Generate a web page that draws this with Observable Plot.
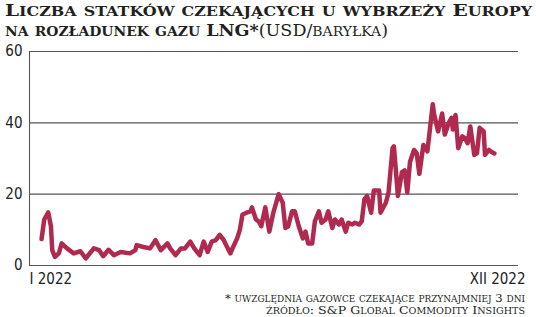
<!DOCTYPE html>
<html>
<head>
<meta charset="utf-8">
<script src="https://cdn.jsdelivr.net/npm/d3@7"></script>
<script src="https://cdn.jsdelivr.net/npm/@observablehq/plot@0.6"></script>
<style>
  html, body { margin: 0; padding: 0; background: #fff; }
  body { width: 536px; height: 317px; overflow: hidden; position: relative; }
  .line { position: absolute; white-space: nowrap; font-family: "DejaVu Serif", serif; color: #231f20; transform-origin: 0 0; }
  .sc { text-transform: uppercase; }
  #chart { position: absolute; left: 0; top: 38px; }
</style>
</head>
<body>
<div id="t1" class="line"></div>
<div id="t2" class="line"></div>
<div id="chart"></div>
<div id="c1" class="line"></div>
<div id="c2" class="line"></div>
<script>
// ----- texts -----
const titleLine1 = "Liczba statków czekających u wybrzeży Europy";
const titleLine2 = "na rozładunek gazu LNG*";
const unitText = "(USD/baryłka)";
const captionLine1 = "* uwzględnia gazowce czekające przynajmniej 3 dni";
const captionLine2 = "źródło: S&P Global Commodity Insights";
const xLabels = ["I 2022", "XII 2022"];
const yTicks = [0, 20, 40, 60];

// ----- data: day of 2022 (0–365) and number of waiting ships -----
const days = [9, 11, 14, 16, 17, 18, 19, 22, 24, 28, 33, 38, 42, 48, 52, 55, 59, 63, 68, 75, 79, 80, 85, 90, 94, 98, 103, 105, 109, 113, 116, 120, 123, 127, 130, 133, 136, 139, 142, 145, 148, 150, 152, 155, 157, 159, 162, 165, 166, 169, 171, 173, 176, 179, 182, 186, 189, 191, 193, 196, 198, 201, 204, 206, 208, 211, 213, 216, 218, 221, 223, 226, 228, 231, 233, 236, 238, 241, 243, 246, 248, 250, 252, 255, 257, 261, 262, 266, 268, 271, 272, 275, 278, 280, 282, 284, 287, 289, 291, 294, 297, 299, 301, 302, 305, 308, 310, 313, 315, 316, 318, 320, 323, 325, 327, 329, 332, 334, 336, 339, 340, 343, 345, 347];
const ships = [7.4, 12.9, 14.9, 11, 4.3, 3.3, 2.4, 3.5, 6.2, 4.8, 3.4, 4, 2, 4.8, 4.3, 2.6, 4.4, 2.9, 3.8, 3.4, 4.3, 5.7, 5.2, 4.8, 7.1, 4.3, 6.2, 4.8, 2.9, 4.8, 4.8, 6.7, 4.8, 2.9, 6.7, 3.8, 6.7, 7.1, 8.6, 7.1, 4.8, 3.4, 5.2, 7.6, 10, 14.3, 14.8, 15.2, 16.3, 12.9, 12.4, 11, 16.3, 9.5, 14.8, 20, 17.6, 10.5, 10.9, 15.2, 15.2, 11, 7.6, 9.5, 6.2, 6.2, 12.4, 15.2, 12, 12.9, 15.2, 10.5, 12.9, 11.5, 12.9, 9.5, 12, 11.5, 12, 11.5, 12.4, 18.6, 19.5, 14.8, 21, 21, 14.8, 17.6, 20.5, 32.9, 33.4, 19.5, 26.2, 26.7, 20.5, 29, 32.4, 31.5, 25.7, 33.8, 32, 38.6, 45.2, 42.4, 37.6, 42.6, 36.7, 40, 41.4, 38.1, 42.2, 32.9, 36.2, 35.7, 34.3, 39, 31, 31.5, 38.6, 37.6, 31, 32.4, 31.8, 31.4];

// ----- small-caps text builder -----
function addSmallCaps(el, text, capPx, scPx, weight) {
  const wrap = document.createElement("span");
  wrap.style.fontWeight = weight;
  let i = 0;
  while (i < text.length) {
    const isLower = ch => ch !== ch.toUpperCase();
    const lower = isLower(text[i]);
    let j = i;
    while (j < text.length && isLower(text[j]) === lower) j++;
    const s = document.createElement("span");
    s.textContent = text.slice(i, j);
    s.style.fontSize = (lower ? scPx : capPx) + "px";
    if (lower) s.className = "sc";
    wrap.appendChild(s);
    i = j;
  }
  el.appendChild(wrap);
}
function place(id, left, top, right, lh) {
  const el = document.getElementById(id);
  el.style.left = left + "px";
  el.style.top = top + "px";
  el.style.lineHeight = lh + "px";
  const w = el.getBoundingClientRect().width;
  el.style.transform = `scaleX(${(right - left) / w})`;
}
const t1 = document.getElementById("t1");
addSmallCaps(t1, titleLine1, 17, 13.5, "bold");
const t2 = document.getElementById("t2");
addSmallCaps(t2, titleLine2, 17, 13.5, "bold");
addSmallCaps(t2, unitText, 17, 13.5, "normal");
addSmallCaps(document.getElementById("c1"), captionLine1, 11.5, 8.8, "normal");
addSmallCaps(document.getElementById("c2"), captionLine2, 11.5, 8.8, "normal");
place("t1", 5, 0, 532, 20);
place("t2", 5, 20, 388, 20);
place("c1", 225, 291, 525, 11);
place("c2", 266, 303, 525, 11);

// ----- chart -----
const data = days.map((d, i) => ({day: d, value: ships[i]}));
const axisFont = '"Liberation Sans Narrow", "DejaVu Sans Condensed", "Roboto", sans-serif';

const chart = Plot.plot({
  width: 536,
  height: 253,
  marginTop: 13,
  marginBottom: 26,
  marginLeft: 29,
  marginRight: 18,
  style: { fontFamily: axisFont, fontSize: "15px", color: "#222", background: "transparent" },
  x: { domain: [0, 365], axis: null },
  y: { domain: [0, 60], ticks: yTicks, tickSize: 0, tickPadding: 7, label: null },
  marks: [
    Plot.ruleY(yTicks, { stroke: "#555", strokeWidth: 1.1 }),
    Plot.ruleX([0], { y1: 0, y2: 60, stroke: "#555", strokeWidth: 1.1 }),
    Plot.lineY(data, { x: "day", y: "value", stroke: "#b02a4f", strokeWidth: 4.5, strokeLinejoin: "round", strokeLinecap: "round" }),
    Plot.text([xLabels[0]], { x: () => 0, y: () => 0, text: d => d, textAnchor: "start", dy: 14, fill: "#222", fontSize: 15 }),
    Plot.text([xLabels[1]], { x: () => 365, y: () => 0, text: d => d, textAnchor: "end", dx: 7, dy: 14, fill: "#222", fontSize: 15 })
  ]
});
document.getElementById("chart").appendChild(chart);
</script>
</body>
</html>
